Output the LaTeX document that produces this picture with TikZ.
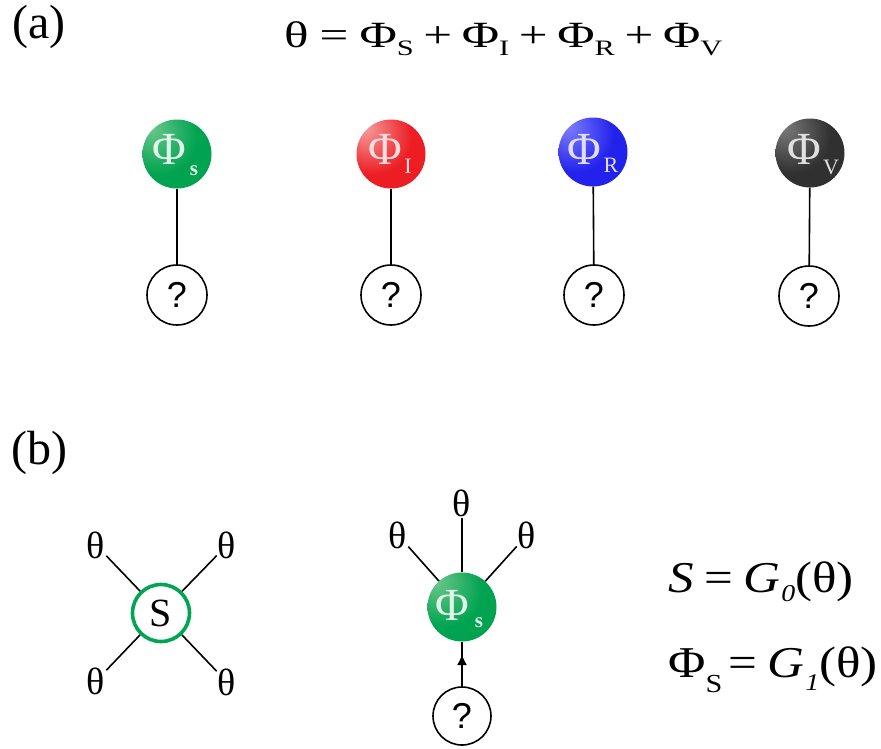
\documentclass[tikz,border=0pt]{standalone}
\usepackage{fontspec}
\setmainfont{Liberation Serif}
\newfontfamily\qfont{Liberation Sans}
\usetikzlibrary{arrows.meta,decorations.markings}
\definecolor{gMain}{RGB}{0,163,80}
\definecolor{gHi}{RGB}{110,200,140}
\definecolor{gEdge}{RGB}{0,140,66}
\definecolor{rMain}{RGB}{236,30,36}
\definecolor{rHi}{RGB}{246,160,160}
\definecolor{rEdge}{RGB}{215,20,26}
\definecolor{bMain}{RGB}{34,34,236}
\definecolor{bHi}{RGB}{130,130,252}
\definecolor{bEdge}{RGB}{22,22,205}
\definecolor{kMain}{RGB}{48,48,48}
\definecolor{kHi}{RGB}{125,125,125}
\definecolor{kEdge}{RGB}{28,28,28}
\definecolor{sGreen}{RGB}{0,166,81}
\pgfdeclareradialshading{ballG}{\pgfpoint{-20bp}{20bp}}{color(0bp)=(gHi); color(28bp)=(gMain); color(62bp)=(gMain); color(80bp)=(gEdge)}
\pgfdeclareradialshading{ballR}{\pgfpoint{-20bp}{20bp}}{color(0bp)=(rHi); color(28bp)=(rMain); color(62bp)=(rMain); color(80bp)=(rEdge)}
\pgfdeclareradialshading{ballB}{\pgfpoint{-20bp}{20bp}}{color(0bp)=(bHi); color(28bp)=(bMain); color(62bp)=(bMain); color(80bp)=(bEdge)}
\pgfdeclareradialshading{ballK}{\pgfpoint{-20bp}{20bp}}{color(0bp)=(kHi); color(28bp)=(kMain); color(62bp)=(kMain); color(80bp)=(kEdge)}
% #1 size, #2 drop, #3 text
\newcommand\lsub[3]{\raisebox{-#2}{\fontsize{#1}{#1}\selectfont #3}}
\begin{document}
\begin{tikzpicture}[x=1pt,y=-1pt,
  ball/.style={circle, minimum size=69pt, inner sep=0pt},
  phitxt/.style={inner sep=0pt, font=\fontsize{46}{46}\selectfont},
  subtxt/.style={inner sep=0pt, font=\fontsize{22}{22}\selectfont},
  subbold/.style={inner sep=0pt, font=\bfseries\fontsize{21}{21}\selectfont},
  qnode/.style={circle, draw, line width=1.6pt, minimum size=60pt, inner sep=0pt, font=\qfont\fontsize{36}{36}\selectfont},
  snode/.style={circle, draw=sGreen, line width=3.6pt, minimum size=57pt, inner sep=0pt, font=\fontsize{40}{40}\selectfont},
  thnode/.style={inner sep=1pt, font=\fontsize{38}{38}\selectfont},
  conn/.style={line width=1.6pt},
  lbl/.style={inner sep=0pt, font=\fontsize{48}{48}\selectfont},
  eqn/.style={inner sep=0pt, font=\fontsize{37}{37}\selectfont},
  reqn/.style={inner sep=0pt, font=\fontsize{44}{44}\selectfont},
  midarrow/.style={decoration={markings, mark=at position 0.72 with {\arrow{Latex[length=11pt,width=10pt]}}}, postaction={decorate}}
]
\useasboundingbox (0,0) rectangle (881,748);

% (a)
\node[lbl] (la) at (39,27) {(a)};
\node[eqn, anchor=base west] (eq) at (284,47) {\scalebox{1.38}[1]{θ\kern8pt=\kern8ptΦ\lsub{22}{8pt}{S}\kern7pt+\kern7ptΦ\lsub{22}{8pt}{I}\kern7pt+\kern7ptΦ\lsub{22}{8pt}{R}\kern7pt+\kern7ptΦ\lsub{22}{8pt}{V}}};

\node[ball, shading=ballG] (b1) at (177,154) {};
\node[phitxt, text=white!88!gMain, xshift=-8pt, yshift=5pt] (p1) at (b1) {Φ};
\node[subbold, text=white!88!gMain, xshift=17pt, yshift=-17pt] (s1) at (b1) {s};

\node[ball, shading=ballR] (b2) at (391,154) {};
\node[phitxt, text=white!85!rMain, xshift=-6pt, yshift=5pt] (p2) at (b2) {Φ};
\node[subtxt, text=white!85!rMain, xshift=17pt, yshift=-12pt] (s2) at (b2) {I};

\node[ball, shading=ballB] (b3) at (593,152) {};
\node[phitxt, text=white!85!bMain, xshift=-9pt, yshift=3pt] (p3) at (b3) {Φ};
\node[subtxt, text=white!85!bMain, xshift=18pt, yshift=-13pt] (s3) at (b3) {R};

\node[ball, shading=ballK] (b4) at (810,153) {};
\node[phitxt, text=white!85!kMain, xshift=-6pt, yshift=4pt] (p4) at (b4) {Φ};
\node[subtxt, text=white!85!kMain, xshift=21pt, yshift=-14pt] (s4) at (b4) {V};

\node[qnode] (q1) at (177,295) {?};
\node[qnode] (q2) at (391,295) {?};
\node[qnode] (q3) at (594,295) {?};
\node[qnode] (q4) at (809,296) {?};

\draw[conn] (b1) -- (q1);
\draw[conn] (b2) -- (q2);
\draw[conn] (b3) -- (q3);
\draw[conn] (b4) -- (q4);

% (b)
\node[lbl] (lb) at (39,453) {(b)};

\node[snode] (S) at (161,613) {S};
\node[thnode] (t1) at (96,545) {θ};
\node[thnode] (t2) at (227,545) {θ};
\node[thnode] (t3) at (96,681) {θ};
\node[thnode] (t4) at (227,682) {θ};
\draw[conn] (S) -- (t1);
\draw[conn] (S) -- (t2);
\draw[conn] (S) -- (t3);
\draw[conn] (S) -- (t4);

\node[ball, shading=ballG] (m) at (462,607) {};
\node[phitxt, text=white!88!gMain, xshift=-10pt, yshift=2pt] (mp) at (m) {Φ};
\node[subbold, text=white!88!gMain, xshift=17pt, yshift=-16pt] (ms) at (m) {s};
\node[thnode] (u1) at (398,535) {θ};
\node[thnode] (u2) at (462,503) {θ};
\node[thnode] (u3) at (527,535) {θ};
\draw[conn] (m) -- (u1);
\draw[conn] (m) -- (u2);
\draw[conn] (m) -- (u3);
\node[qnode, minimum size=58pt] (mq) at (462,716) {?};
\draw[conn, midarrow] (mq) -- (m);

\node[reqn, anchor=base west] (r1) at (668,592) {\scalebox{1.16}[1]{\textit{S}\kern9pt=\kern9pt\textit{G}\kern1pt\lsub{24}{9pt}{\textit{0}}(θ)}};
\node[reqn, anchor=base west] (r2) at (668,677) {\scalebox{1.16}[1]{Φ\lsub{26}{15pt}{S}\kern5pt=\kern9pt\textit{G}\kern1pt\lsub{24}{13pt}{\textit{1}}(θ)}};
\end{tikzpicture}
\end{document}
